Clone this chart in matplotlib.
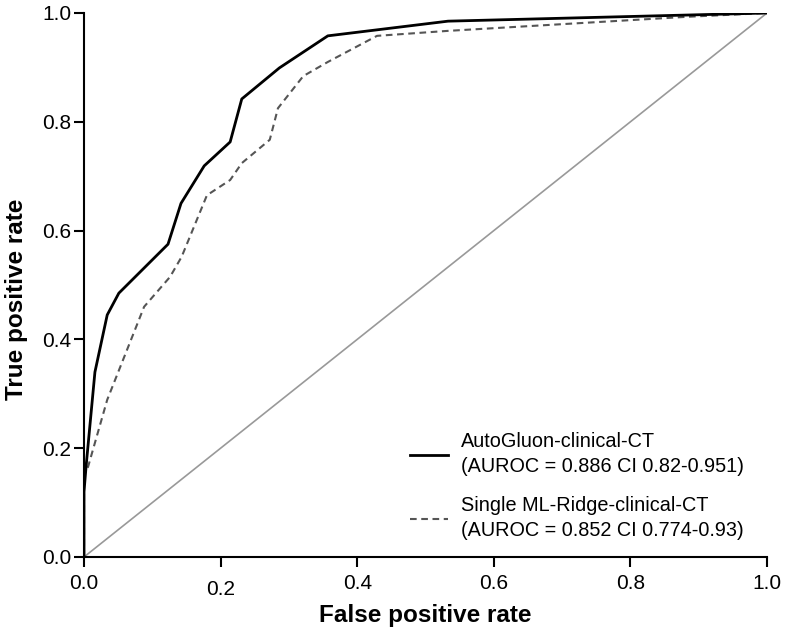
import matplotlib
matplotlib.use("Agg")
import matplotlib.pyplot as plt
from matplotlib.transforms import ScaledTranslation

plt.rcParams['font.family'] = ['Liberation Sans', 'DejaVu Sans']

# AutoGluon-clinical-CT ROC curve
fpr_auto = [0.0, 0.0, 0.003, 0.016, 0.034, 0.051, 0.123, 0.142, 0.176, 0.214, 0.231, 0.286, 0.357, 0.533, 1.0]
tpr_auto = [0.0, 0.12, 0.166, 0.340, 0.445, 0.485, 0.575, 0.650, 0.719, 0.763, 0.842, 0.899, 0.958, 0.985, 1.0]

# Single ML-Ridge-clinical-CT ROC curve
fpr_ridge = [0.0, 0.0, 0.006, 0.034, 0.088, 0.126, 0.143, 0.180, 0.214, 0.231, 0.272, 0.284, 0.321, 0.357, 0.390, 0.429, 0.531, 0.707, 0.883, 1.0]
tpr_ridge = [0.0, 0.15, 0.166, 0.289, 0.460, 0.515, 0.552, 0.665, 0.693, 0.724, 0.767, 0.825, 0.884, 0.910, 0.932, 0.958, 0.967, 0.980, 0.993, 1.0]

label_auto = "AutoGluon-clinical-CT\n(AUROC = 0.886 CI 0.82-0.951)"
label_ridge = "Single ML-Ridge-clinical-CT\n(AUROC = 0.852 CI 0.774-0.93)"

xticks = [0.0, 0.2, 0.4, 0.6, 0.8, 1.0]
yticks = [0.0, 0.2, 0.4, 0.6, 0.8, 1.0]

fig = plt.figure(figsize=(7.86, 6.32), dpi=100)
ax = fig.add_axes([84/786, 1-557/632, (767-84)/786, (557-13)/632])

ax.plot([0, 1], [0, 1], color='#999999', lw=1.2, zorder=1)
ax.plot(fpr_auto, tpr_auto, color='black', lw=2.0, label=label_auto, zorder=3)
ax.plot(fpr_ridge, tpr_ridge, color='#555555', lw=1.5, ls=(0, (3.2, 2.2)), label=label_ridge, zorder=2)

ax.set_xlim(0, 1)
ax.set_ylim(0, 1)
ax.set_xticks(xticks)
ax.set_yticks(yticks)
ax.set_xticklabels([f"{v:.1f}" for v in xticks])
ax.set_yticklabels([f"{v:.1f}" for v in yticks])
for s in ['top', 'right']:
    ax.spines[s].set_visible(False)
for s in ['left', 'bottom']:
    ax.spines[s].set_linewidth(1.5)
ax.tick_params(axis='both', direction='out', length=7, width=1.5, labelsize=15)
ax.tick_params(axis='x', pad=5)
ax.tick_params(axis='y', pad=2)

# quirk: 0.2 label sits a bit lower
lab = ax.get_xticklabels()[1]
lab.set_transform(lab.get_transform() + ScaledTranslation(0, -6/100, fig.dpi_scale_trans))

ax.set_xlabel("False positive rate", fontsize=17.5, fontweight='bold')
ax.set_ylabel("True positive rate", fontsize=17.5, fontweight='bold')
ax.xaxis.set_label_coords(0.5, -0.086)
ax.yaxis.set_label_coords(-0.082, 0.474)

leg = ax.legend(loc='upper left', bbox_to_anchor=(0.477, 0.229), frameon=False,
                fontsize=14.3, handlelength=1.9, handletextpad=0.7, labelspacing=1.0,
                borderpad=0, borderaxespad=0)
for t in leg.get_texts():
    t.set_linespacing(1.39)

fig.savefig("out.png", dpi=100)
